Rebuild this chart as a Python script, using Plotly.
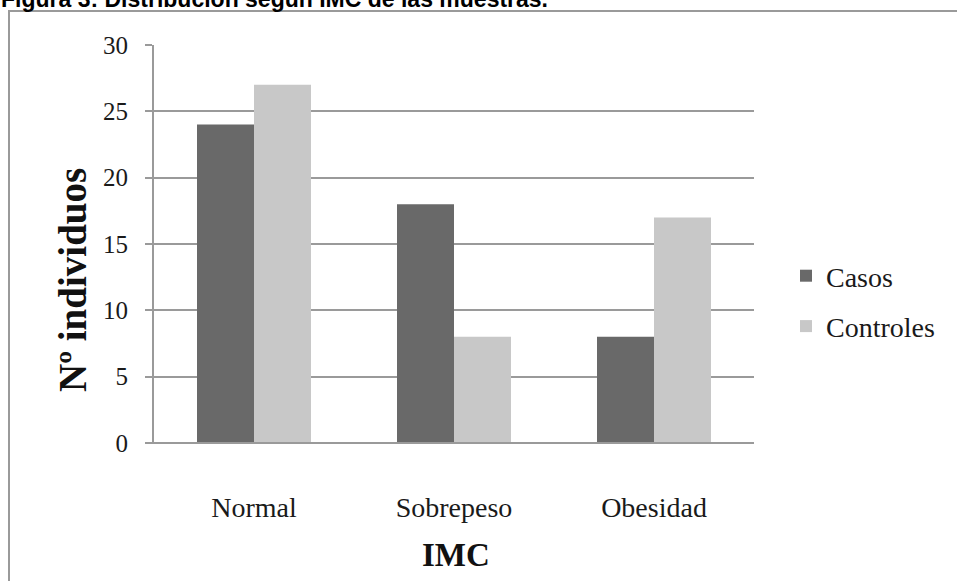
import plotly.graph_objects as go

categories = ["Normal", "Sobrepeso", "Obesidad"]
casos = [24, 18, 8]
controles = [27, 8, 17]
y_ticks = [0, 5, 10, 15, 20, 25, 30]

W, H = 957, 581
L, R, T, B = 154, 203, 45, 138
pw, ph = W - L - R, H - T - B

def px_x(x):
    return (x - L) / pw

def px_y(y):
    return 1 - (y - T) / ph

serif = "Liberation Serif"
grey = "#9a9a9a"

fig = go.Figure()
fig.add_trace(go.Bar(name="Casos", x=categories, y=casos, marker_color="#696969",
                     marker_line_width=0, legendgroup="a"))
fig.add_trace(go.Bar(name="Controles", x=categories, y=controles, marker_color="#c8c8c8",
                     marker_line_width=0, legendgroup="b"))

fig.update_layout(
    width=W, height=H,
    margin=dict(l=L, r=R, t=T, b=B, pad=0, autoexpand=False),
    paper_bgcolor="white", plot_bgcolor="white",
    barmode="group", bargap=0.43, bargroupgap=0,
    font=dict(family=serif, color="#1a1a1a"),
    legend=dict(x=px_x(786), y=px_y(251), xanchor="left", yanchor="top",
                font=dict(family=serif, size=28, color="#1a1a1a"),
                tracegroupgap=11, itemwidth=30, bgcolor="rgba(0,0,0,0)"),
    showlegend=True,
)
fig.update_xaxes(
    automargin=False,
    showline=False, showgrid=False, ticks="",
    tickfont=dict(family=serif, size=28, color="#1a1a1a"),
    ticklabelstandoff=45,
)
fig.update_yaxes(
    automargin=False,
    range=[0, 30], tickvals=y_ticks,
    showgrid=True, gridcolor=grey, gridwidth=2,
    showline=True, linecolor=grey, linewidth=2,
    ticks="outside", ticklen=7, tickcolor=grey, tickwidth=2,
    tickfont=dict(family=serif, size=25, color="#1a1a1a"),
    ticklabelstandoff=12,
    zeroline=True, zerolinecolor=grey, zerolinewidth=2,
)

# axis titles
fig.add_annotation(text="<b>Nº individuos</b>", textangle=-90,
                   xref="paper", yref="paper", x=px_x(72), y=px_y(280),
                   xanchor="center", yanchor="middle", showarrow=False,
                   font=dict(family=serif, size=39, color="#111"))
fig.add_annotation(text="<b>IMC</b>",
                   xref="paper", yref="paper", x=px_x(456), y=px_y(555),
                   xanchor="center", yanchor="middle", showarrow=False,
                   font=dict(family=serif, size=33, color="#111"))

# outer frame around the chart
fig.add_shape(type="rect", xref="paper", yref="paper",
              x0=px_x(9), x1=px_x(970), y0=px_y(600), y1=px_y(11),
              line=dict(color=grey, width=2), fillcolor="rgba(0,0,0,0)", layer="below")
# bottom axis line extends left to tick length
fig.add_shape(type="line", xref="paper", yref="paper",
              x0=px_x(147), x1=1, y0=0, y1=0,
              line=dict(color=grey, width=2))

# figure caption (partly cut at top)
fig.add_annotation(text="<b>Figura 3: Distribución según IMC de las muestras.</b>",
                   xref="paper", yref="paper", x=px_x(0), y=px_y(13),
                   xanchor="left", yanchor="bottom", showarrow=False, borderpad=0,
                   font=dict(family="Liberation Sans", size=23, color="#000"))

fig.write_html("out.html", config={"displayModeBar": False},
               post_script="document.body.style.margin='0';")
